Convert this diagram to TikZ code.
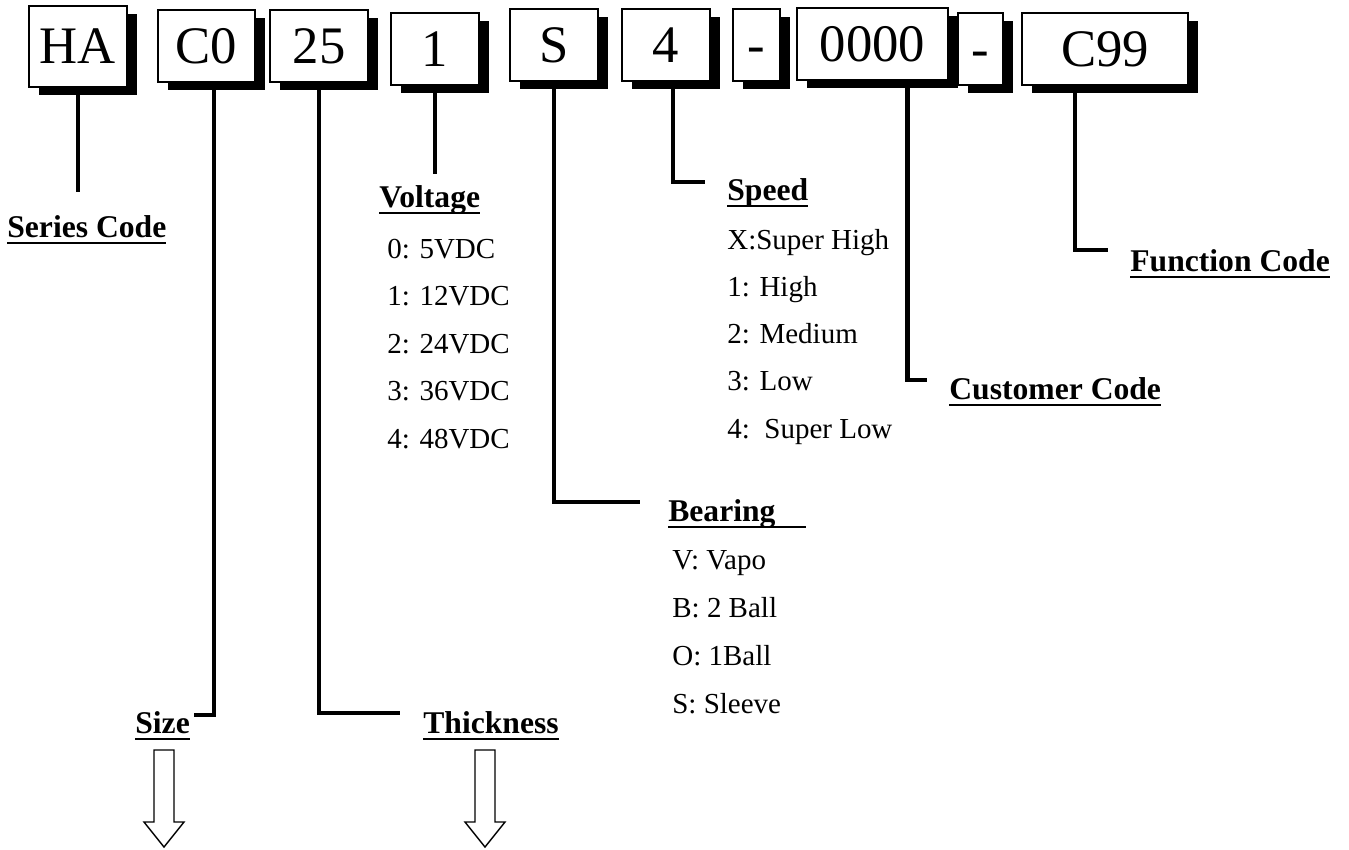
\documentclass[tikz,border=0pt]{standalone}
\usepackage{fontspec}
\setmainfont{Liberation Serif}
\usetikzlibrary{shadows}
\newcommand{\undl}[1]{\sbox0{#1}\rlap{\rule[-3.8pt]{\wd0}{1.1pt}}\usebox0}

\begin{document}
\begin{tikzpicture}[x=0.02cm,y=-0.02cm,
    codebox/.style={draw,fill=white,line width=0.9pt,inner sep=0pt,text height=19.9pt,text depth=0pt,
      font=\fontsize{30}{36}\selectfont,
      drop shadow={shadow xshift=0.2cm,shadow yshift=-0.16cm,fill=black,opacity=1}},
    lead/.style={line width=2.3pt},
    fieldname/.style={anchor=base west,inner sep=0pt,font=\fontsize{18}{22}\selectfont\bfseries},
    optitem/.style={anchor=base west,inner sep=0pt,font=\fontsize{16.5}{20}\selectfont},
    hollow/.style={draw,line width=0.8pt}]
    \useasboundingbox (0,0) rectangle (1349,849);%
    % code boxes
    \foreach \n/\t/\x/\y/\w/\h in {ha/HA/78/46.5/98/81, cz/C0/206.5/46/97/72, tk/25/319/46/98/72,
        vt/1/435/49/88/72, br/S/554/45/88/72, sp/4/666/45/88/72, dA/-/756.5/45/47/72,
        cu/0000/872.5/44/151/72, dB/-/980.5/49/45/72, fn/C99/1105/49/166/72} {%
      \node[codebox,minimum width={\w*0.02cm},minimum height={\h*0.02cm}] (\n) at (\x,\y) {\t};%
    };%
    % field names
    \node[fieldname] (series) at (7,237) {\undl{Series Code}};%
    \node[fieldname] (size) at (135,733) {\undl{Size}};%
    \node[fieldname] (thick) at (423,733) {\undl{Thickness}};%
    \node[fieldname] (volt) at (379,207) {\undl{Voltage}};%
    \node[fieldname] (bear) at (668,521) {\undl{Bearing\hspace{0.95em}}};%
    \node[fieldname] (speed) at (727,200) {\undl{Speed}};%
    \node[fieldname] (cust) at (949,399) {\undl{Customer Code}};%
    \node[fieldname] (func) at (1130,271) {\undl{Function Code}};%
    % options
    \foreach \t [count=\i from 0] in {0: 5VDC, 1: 12VDC, 2: 24VDC, 3: 36VDC, 4: 48VDC}
      \node[optitem] (volt\i) at (387,{258+47.5*\i}) {\t};%
    \foreach \t [count=\i from 0] in {X:Super High, 1: High, 2: Medium, 3: Low, 4:\ \ Super Low}
      \node[optitem] (speed\i) at (727,{249+47.3*\i}) {\t};%
    \foreach \t [count=\i from 0] in {V: Vapo, B: 2 Ball, O: 1Ball, S: Sleeve}
      \node[optitem] (bear\i) at (672,{569+48*\i}) {\t};%
    % leads
    \coordinate (haend) at (78,192);%
    \coordinate (szend) at (194,715);%
    \coordinate (tkend) at (400,713);%
    \coordinate (vtend) at (435,174);%
    \coordinate (brend) at (640,502);%
    \coordinate (spend) at (705,182);%
    \coordinate (cuend) at (927,380);%
    \coordinate (fnend) at (1108,250);%
    \draw[lead] (ha.south) -- (haend);%
    \draw[lead] ([xshift=0.15cm]cz.south) |- (szend);%
    \draw[lead] (tk.south) |- (tkend);%
    \draw[lead] (vt.south) -- (vtend);%
    \draw[lead] (br.south) |- (brend);%
    \draw[lead] ([xshift=0.14cm]sp.south) |- (spend);%
    \draw[lead] ([xshift=0.7cm]cu.south) |- (cuend);%
    \draw[lead] ([xshift=-0.6cm]fn.south) |- (fnend);%
    % hollow arrows
    \coordinate (sztip) at (164,847);%
    \coordinate (tktip) at (485,847);%
    \foreach \c in {sztip,tktip}
      \draw[hollow] (\c) -- ++(-20,-25) -- ++(10,0) -- ++(0,-72) -- ++(20,0) -- ++(0,72) -- ++(10,0) -- cycle;%
  \end{tikzpicture}
\end{document}
